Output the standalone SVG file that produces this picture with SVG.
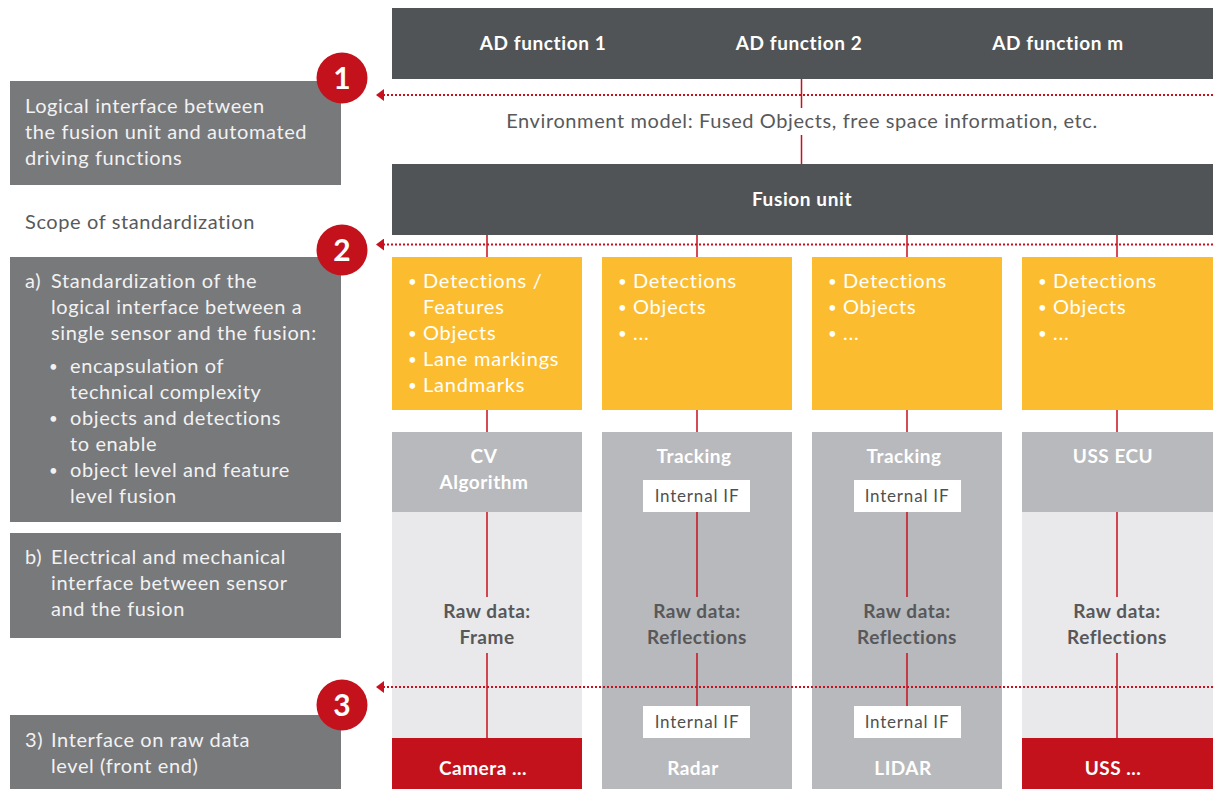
<svg xmlns="http://www.w3.org/2000/svg" width="1213" height="789" viewBox="0 0 1213 789">
<defs>
<style>
.t{font-family:Lato,"Liberation Sans",sans-serif;letter-spacing:0.6px}
.lbox{fill:#78797b}
.ltxt{font-family:Lato,"Liberation Sans",sans-serif;font-size:20px;fill:#f2f2f2;letter-spacing:0.6px}
.bul{font-size:15px}
.dark{fill:#505456}
.hb{font-family:Lato,"Liberation Sans",sans-serif;font-size:19px;font-weight:bold;fill:#ffffff;text-anchor:middle;letter-spacing:0.6px}
.yel{fill:#fbbd2f}
.ytxt{font-family:Lato,"Liberation Sans",sans-serif;font-size:20px;fill:#ffffff;letter-spacing:0.8px}
.g1{fill:#b8b9bc}
.g2{fill:#e9e9eb}
.red{fill:#c4121c}
.wb{font-family:Lato,"Liberation Sans",sans-serif;font-size:19px;font-weight:bold;fill:#ffffff;text-anchor:middle;letter-spacing:0.5px}
.raw{font-family:Lato,"Liberation Sans",sans-serif;font-size:19px;font-weight:bold;fill:#57585a;text-anchor:middle;letter-spacing:0.5px}
.iif{fill:#ffffff}
.iift{font-family:Lato,"Liberation Sans",sans-serif;font-size:17px;fill:#505050;text-anchor:middle;letter-spacing:0.8px}
.ln{stroke:#c8101e;stroke-width:1.5;fill:none}
.dot{stroke:#c8101e;stroke-width:2;stroke-dasharray:2 2;fill:none}
.circ{fill:#c4121c}
.ctxt{font-family:Lato,"Liberation Sans",sans-serif;font-size:30px;font-weight:bold;fill:#ffffff;text-anchor:middle}
</style>
<marker id="arr" viewBox="0 0 8 12" refX="7" refY="6" markerWidth="8" markerHeight="12" markerUnits="userSpaceOnUse" orient="auto">
<path d="M0,0 L8,6 L0,12 Z" fill="#c8101e"/>
</marker>
</defs>
<rect width="1213" height="789" fill="#ffffff"/>

<g id="ad-functions">
<rect class="dark" x="392" y="8" width="821" height="71"/>
<text class="hb" x="543" y="50">AD function 1</text>
<text class="hb" x="799" y="50">AD function 2</text>
<text class="hb" x="1058" y="50">AD function m</text>
</g>

<g id="env-model">
<text class="t" x="802" y="128" font-size="20" fill="#58595b" text-anchor="middle">Environment model: Fused Objects, free space information, etc.</text>
</g>

<g id="fusion-unit">
<rect class="dark" x="392" y="164" width="821" height="71"/>
<text class="hb" x="802" y="206">Fusion unit</text>
</g>

<g id="left-1">
<rect class="lbox" x="10" y="81" width="331" height="104"/>
<text class="ltxt"><tspan x="25" y="113">Logical interface between</tspan><tspan x="25" y="139">the fusion unit and automated</tspan><tspan x="25" y="165">driving functions</tspan></text>
</g>

<g id="scope">
<text class="t" x="25" y="229" font-size="20" fill="#58595b">Scope of standardization</text>
</g>

<g id="left-a">
<rect class="lbox" x="10" y="257" width="331" height="265"/>
<text class="ltxt"><tspan x="25" y="288">a)</tspan><tspan x="51" y="288">Standardization of the</tspan><tspan x="51" y="314">logical interface between a</tspan><tspan x="51" y="340">single sensor and the fusion:</tspan></text>
<text class="ltxt"><tspan class="bul" x="49" y="372">•</tspan><tspan x="70" y="373">encapsulation of</tspan><tspan x="70" y="399">technical complexity</tspan><tspan class="bul" x="49" y="424">•</tspan><tspan x="70" y="425">objects and detections</tspan><tspan x="70" y="451">to enable</tspan><tspan class="bul" x="49" y="476">•</tspan><tspan x="70" y="477">object level and feature</tspan><tspan x="70" y="503">level fusion</tspan></text>
</g>

<g id="left-b">
<rect class="lbox" x="10" y="533" width="331" height="105"/>
<text class="ltxt"><tspan x="25" y="564">b)</tspan><tspan x="51" y="564">Electrical and mechanical</tspan><tspan x="51" y="590">interface between sensor</tspan><tspan x="51" y="616">and the fusion</tspan></text>
</g>

<g id="left-3">
<rect class="lbox" x="10" y="715" width="331" height="74"/>
<text class="ltxt"><tspan x="25" y="747">3)</tspan><tspan x="51" y="747">Interface on raw data</tspan><tspan x="51" y="773">level (front end)</tspan></text>
</g>

<g id="badge-1"><circle class="circ" cx="342" cy="78" r="25.5"/><text class="ctxt" x="342" y="89">1</text></g>
<g id="badge-2"><circle class="circ" cx="342" cy="250" r="25.5"/><text class="ctxt" x="342" y="261">2</text></g>
<g id="badge-3"><circle class="circ" cx="342" cy="705" r="25.5"/><text class="ctxt" x="342" y="716">3</text></g>

<g id="col-camera">
<rect class="yel" x="392" y="257" width="190" height="153"/>
<text class="ytxt"><tspan class="bul" x="408" y="287">•</tspan><tspan x="423" y="288">Detections /</tspan><tspan x="423" y="314">Features</tspan><tspan class="bul" x="408" y="339">•</tspan><tspan x="423" y="340">Objects</tspan><tspan class="bul" x="408" y="365">•</tspan><tspan x="423" y="366">Lane markings</tspan><tspan class="bul" x="408" y="391">•</tspan><tspan x="423" y="392">Landmarks</tspan></text>
<rect class="g1" x="392" y="432" width="190" height="80"/>
<rect class="g2" x="392" y="512" width="190" height="226"/>
<rect class="red" x="392" y="738" width="190" height="51"/>
<text class="wb"><tspan x="484" y="463">CV</tspan><tspan x="484" y="489">Algorithm</tspan></text>
<text class="raw"><tspan x="487" y="618">Raw data:</tspan><tspan x="487" y="644">Frame</tspan></text>
<text class="wb" x="483" y="775">Camera ...</text>
</g>

<g id="col-radar">
<rect class="yel" x="602" y="257" width="190" height="153"/>
<text class="ytxt"><tspan class="bul" x="618" y="287">•</tspan><tspan x="633" y="288">Detections</tspan><tspan class="bul" x="618" y="313">•</tspan><tspan x="633" y="314">Objects</tspan><tspan class="bul" x="618" y="339">•</tspan><tspan x="633" y="340">...</tspan></text>
<rect class="g1" x="602" y="432" width="190" height="357"/>
<text class="wb" x="694" y="463">Tracking</text>
<rect class="iif" x="643" y="480" width="107" height="32"/>
<text class="iift" x="697" y="502">Internal IF</text>
<text class="raw"><tspan x="697" y="618">Raw data:</tspan><tspan x="697" y="644">Reflections</tspan></text>
<rect class="iif" x="643" y="706" width="107" height="32"/>
<text class="iift" x="697" y="728">Internal IF</text>
<text class="wb" x="693" y="775">Radar</text>
</g>

<g id="col-lidar">
<rect class="yel" x="812" y="257" width="190" height="153"/>
<text class="ytxt"><tspan class="bul" x="828" y="287">•</tspan><tspan x="843" y="288">Detections</tspan><tspan class="bul" x="828" y="313">•</tspan><tspan x="843" y="314">Objects</tspan><tspan class="bul" x="828" y="339">•</tspan><tspan x="843" y="340">...</tspan></text>
<rect class="g1" x="812" y="432" width="190" height="357"/>
<text class="wb" x="904" y="463">Tracking</text>
<rect class="iif" x="854" y="480" width="107" height="32"/>
<text class="iift" x="907" y="502">Internal IF</text>
<text class="raw"><tspan x="907" y="618">Raw data:</tspan><tspan x="907" y="644">Reflections</tspan></text>
<rect class="iif" x="854" y="706" width="107" height="32"/>
<text class="iift" x="907" y="728">Internal IF</text>
<text class="wb" x="903" y="775">LIDAR</text>
</g>

<g id="col-uss">
<rect class="yel" x="1022" y="257" width="191" height="153"/>
<text class="ytxt"><tspan class="bul" x="1038" y="287">•</tspan><tspan x="1053" y="288">Detections</tspan><tspan class="bul" x="1038" y="313">•</tspan><tspan x="1053" y="314">Objects</tspan><tspan class="bul" x="1038" y="339">•</tspan><tspan x="1053" y="340">...</tspan></text>
<rect class="g1" x="1022" y="432" width="191" height="80"/>
<rect class="g2" x="1022" y="512" width="191" height="226"/>
<rect class="red" x="1022" y="738" width="191" height="51"/>
<text class="wb" x="1113" y="463">USS ECU</text>
<text class="raw"><tspan x="1117" y="618">Raw data:</tspan><tspan x="1117" y="644">Reflections</tspan></text>
<text class="wb" x="1113" y="775">USS ...</text>
</g>

<g id="connectors">
<path class="ln" d="M801.5,79 V108 M801.5,135 V164"/>
<path class="ln" d="M487,235 V257 M487,410 V432 M487,512 V597 M487,653 V738"/>
<path class="ln" d="M697,235 V257 M697,410 V432 M697,512 V597 M697,653 V706"/>
<path class="ln" d="M907,235 V257 M907,410 V432 M907,512 V597 M907,653 V706"/>
<path class="ln" d="M1117,235 V257 M1117,410 V432 M1117,512 V597 M1117,653 V738"/>
<line class="dot" x1="1213" y1="95" x2="377" y2="95" marker-end="url(#arr)"/>
<line class="dot" x1="1213" y1="244.5" x2="377" y2="244.5" marker-end="url(#arr)"/>
<line class="dot" x1="1213" y1="687" x2="377" y2="687" marker-end="url(#arr)"/>
</g>
</svg>
